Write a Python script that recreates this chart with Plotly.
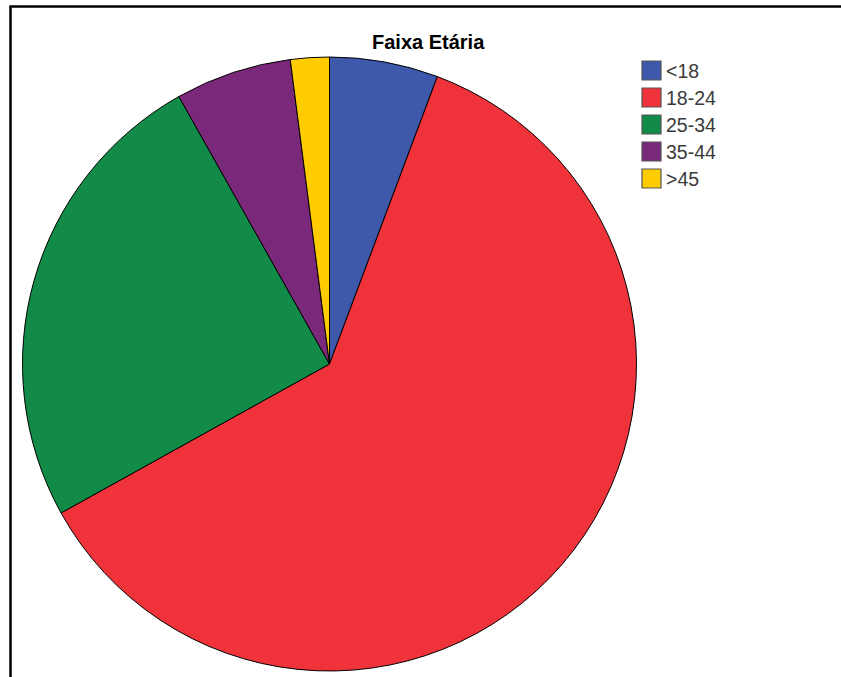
import plotly.graph_objects as go

labels = ["<18", "18-24", "25-34", "35-44", ">45"]
counts = [14, 150, 61, 15, 5]
colors = ["#3E58AC", "#F0333B", "#138B48", "#7A287A", "#FFCC00"]
title_text = "Faixa Etária"

W, H = 841, 677

def px(x):
    return x / W

def py(y):
    return 1 - y / H

cx, cy, r = 329.5, 364.0, 307.0

fig = go.Figure()
fig.add_trace(go.Pie(
    labels=labels,
    values=counts,
    sort=False,
    direction="clockwise",
    rotation=0,
    marker=dict(colors=colors, line=dict(color="#000000", width=1)),
    textinfo="none",
    hoverinfo="label+value+percent",
    showlegend=False,
    domain=dict(x=[px(cx - r), px(cx + r)], y=[py(cy + r), py(cy - r)]),
))

shapes = [
    dict(type="line", xref="paper", yref="paper", x0=px(10.5), x1=px(10.5), y0=py(6), y1=py(H + 2),
         line=dict(color="#000000", width=2.5)),
    dict(type="line", xref="paper", yref="paper", x0=px(9.5), x1=px(W + 2), y0=py(6.5), y1=py(6.5),
         line=dict(color="#000000", width=2.5)),
]
annotations = [
    dict(text="<b>" + title_text + "</b>", xref="paper", yref="paper", x=px(428.5), y=py(42),
         xanchor="center", yanchor="middle", showarrow=False,
         font=dict(family="Liberation Sans, Arial, sans-serif", size=20, color="#000000")),
]

for i, (lab, col) in enumerate(zip(labels, colors)):
    top = 61 + 27 * i
    shapes.append(dict(type="rect", xref="paper", yref="paper",
                       x0=px(642), x1=px(661), y0=py(top + 19), y1=py(top),
                       fillcolor=col, line=dict(color="#555555", width=1.2)))
    annotations.append(dict(text=lab, xref="paper", yref="paper", x=px(664), y=py(top + 10),
                            xanchor="left", yanchor="middle", showarrow=False,
                            font=dict(family="Liberation Sans, Arial, sans-serif", size=19.5, color="#3a3a3a")))

fig.update_layout(
    width=W, height=H,
    margin=dict(l=0, r=0, t=0, b=0),
    paper_bgcolor="#FFFFFF",
    plot_bgcolor="#FFFFFF",
    shapes=shapes,
    annotations=annotations,
)

fig.write_html("out.html")
